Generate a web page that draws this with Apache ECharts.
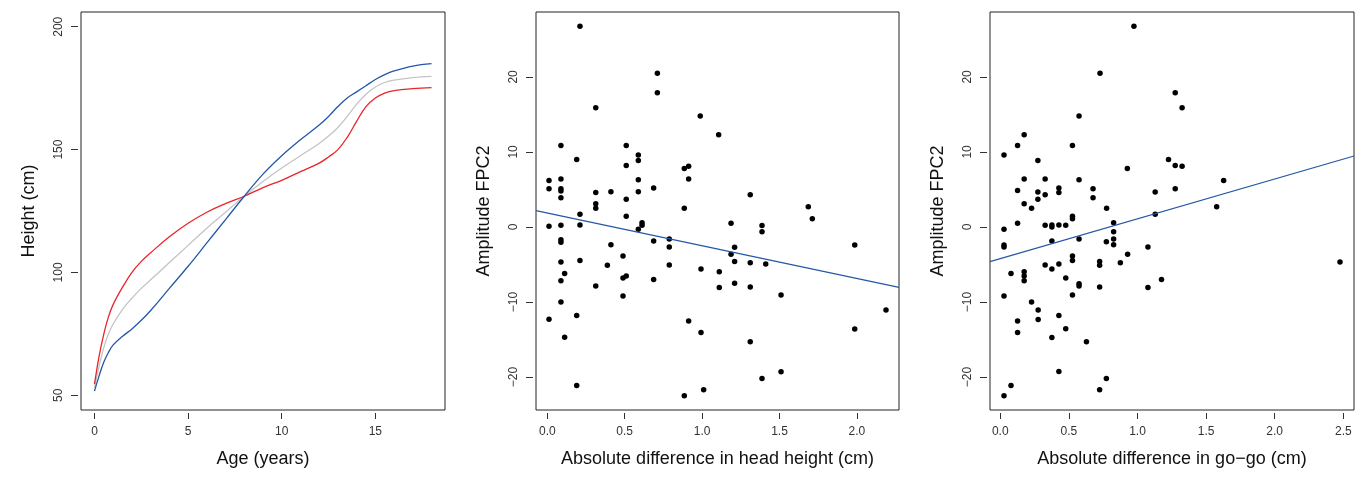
<!DOCTYPE html>
<html>
<head>
<meta charset="utf-8">
<script src="https://cdn.jsdelivr.net/npm/echarts@6/dist/echarts.min.js"></script>
<style>
  html, body { margin: 0; padding: 0; background: #fff; }
  #chart { width: 1358px; height: 480px; }
</style>
</head>
<body>
<div id="chart"></div>
<script>
// Panel 1: growth curves
const ages = [0, 0.25, 0.5, 0.75, 1, 1.5, 2, 2.5, 3, 4, 5, 6, 7, 8, 9, 10, 11, 12, 12.5, 13, 13.5, 14, 14.5, 15, 15.5, 16, 17, 18];
const blueHeights = [51.7, 58, 63.5, 67.5, 70.5, 74, 77, 80.5, 84.5, 93.5, 102.5, 112, 121.5, 131, 140, 147.5, 154, 160, 163.5, 167.5, 171, 173.5, 176, 178.5, 180.5, 182, 184, 185];
const redHeights = [54.5, 66, 75, 82, 87, 94, 100, 104.5, 108, 114.5, 120, 124.5, 128, 131, 134.5, 137.5, 141, 144.5, 147, 150, 155, 161.5, 167.5, 171, 173, 174, 174.8, 175.2];
const meanHeights = [53, 62, 69.5, 75, 79, 85, 89.5, 93.5, 97, 104, 111, 118, 124.5, 131, 137, 142.5, 147.5, 152.5, 155.5, 159, 163.5, 168.5, 172.5, 175.5, 177.3, 178.3, 179.3, 179.8];

// Panel 2: head height difference vs FPC2 amplitude
const headDiff = [0.211, 0.711, 0.711, 0.313, 0.988, 1.107, 0.088, 0.510, 0.588, 0.588, 0.19, 0.51, 0.885, 0.913, 0.011, 0.088, 0.588, 0.913, 0.011, 0.088, 0.088, 0.313, 0.411, 0.588, 0.687, 0.088, 0.51, 0.313, 0.313, 0.885, 1.311, 1.686, 1.712, 1.187, 1.387, 1.387, 1.986, 1.21, 1.187, 1.21, 1.311, 1.411, 0.993, 1.111, 1.111, 1.21, 1.311, 1.51, 2.188, 1.986, 0.993, 1.311, 1.51, 1.387, 1.01, 0.211, 0.51, 0.011, 0.088, 0.211, 0.612, 0.612, 0.588, 0.088, 0.088, 0.411, 0.687, 0.788, 0.788, 0.088, 0.211, 0.112, 0.388, 0.489, 0.788, 0.088, 0.313, 0.489, 0.51, 0.687, 0.489, 0.088, 0.011, 0.19, 0.112, 0.913, 0.19, 0.885];
const headFpc2 = [26.74, 20.5, 17.9, 15.9, 14.8, 12.3, 10.85, 10.85, 9.6, 8.85, 9.0, 8.2, 7.8, 8.1, 6.2, 6.4, 6.3, 6.4, 5.1, 5.1, 4.8, 4.6, 4.7, 4.7, 5.2, 3.9, 3.7, 3.1, 2.5, 2.5, 4.3, 2.7, 1.1, 0.48, 0.2, -0.63, -2.4, -2.7, -3.65, -4.6, -4.77, -4.95, -5.6, -5.97, -8.06, -7.5, -8.0, -9.08, -11.08, -13.6, -14.07, -15.3, -19.3, -20.2, -21.7, 1.68, 1.42, 0.08, 0.21, 0.27, 0.57, 0.21, -0.32, -1.7, -2.05, -2.36, -1.87, -1.6, -2.67, -4.67, -4.46, -6.2, -5.12, -3.87, -5.08, -7.17, -7.88, -6.8, -6.55, -7.0, -9.2, -10.0, -12.3, -11.8, -14.7, -12.55, -21.15, -22.5];
const headFit = [1.86, -4.36]; // intercept, slope

// Panel 3: go-go difference vs FPC2 amplitude
const gogoDiff = [0.974, 0.727, 1.275, 0.574, 0.174, 0.126, 0.526, 0.027, 0.274, 1.226, 0.926, 1.275, 0.174, 0.327, 0.574, 0.126, 0.274, 0.327, 0.427, 0.427, 0.676, 0.676, 1.129, 1.275, 0.174, 0.274, 0.228, 0.775, 1.325, 1.325, 1.628, 1.577, 1.129, 0.027, 0.126, 0.327, 0.376, 0.376, 0.427, 0.477, 0.526, 0.526, 0.826, 0.826, 0.826, 0.826, 0.773, 0.027, 0.027, 0.376, 0.574, 1.076, 0.928, 0.875, 0.526, 0.526, 0.724, 0.724, 0.327, 0.376, 0.427, 0.078, 0.174, 0.174, 0.174, 0.477, 0.574, 0.574, 0.724, 1.076, 1.175, 0.526, 0.027, 0.228, 0.276, 0.427, 0.276, 0.126, 0.477, 0.126, 0.376, 0.628, 0.427, 0.773, 0.078, 0.724, 0.027, 2.476];
const gogoFpc2 = [26.74, 20.5, 17.9, 14.8, 12.3, 10.85, 10.85, 9.6, 8.85, 9.0, 7.8, 8.2, 6.4, 6.4, 6.3, 4.85, 4.67, 4.3, 5.2, 4.58, 5.1, 3.9, 4.67, 5.1, 3.1, 3.7, 2.5, 2.5, 15.9, 8.1, 6.2, 2.7, 1.68, -0.32, 0.48, 0.21, 0.27, 0.0, 0.27, 0.21, 1.42, 1.1, 0.57, -0.63, -1.6, -2.36, -1.96, -2.4, -2.67, -1.87, -1.6, -2.67, -3.65, -4.77, -3.87, -4.46, -4.6, -5.12, -5.08, -5.6, -4.95, -6.2, -5.97, -6.55, -7.17, -6.8, -7.57, -7.88, -8.0, -8.06, -7.0, -9.08, -9.2, -10.0, -11.08, -11.8, -12.34, -12.55, -13.58, -14.07, -14.74, -15.31, -19.28, -20.2, -21.15, -21.7, -22.5, -4.67];
const gogoFit = [-4.23, 5.31];

// tick labels
const ageTicks = [0, 5, 10, 15];
const heightTicks = [50, 100, 150, 200];
const headTicks = [0, 0.5, 1, 1.5, 2];
const gogoTicks = [0, 0.5, 1, 1.5, 2, 2.5];
const fpcTicks = [-20, -10, 0, 10, 20];

const FONT = 'Liberation Sans, Arial, sans-serif';
const zip = (xs, ys) => xs.map((x, i) => [x, ys[i]]);

function xAxisFor(idx, min, max, ticks, name, fmt) {
  return {
    type: 'value', gridIndex: idx, min: min, max: max, offset: 3, position: 'bottom',
    name: name, nameLocation: 'middle', nameGap: 37,
    nameTextStyle: { fontSize: 18, color: '#111', fontFamily: FONT },
    axisLine: { show: false, onZero: false },
    axisTick: { show: true, length: 6, customValues: ticks, lineStyle: { color: '#333' } },
    axisLabel: { customValues: ticks, margin: 13, fontSize: 12, color: '#333', fontFamily: FONT, formatter: fmt },
    splitLine: { show: false }
  };
}

function yAxisFor(idx, min, max, ticks, name, fmt) {
  return {
    type: 'value', gridIndex: idx, min: min, max: max, offset: 3, position: 'left',
    name: name, nameLocation: 'middle', nameGap: 40,
    nameTextStyle: { fontSize: 18, color: '#111', fontFamily: FONT },
    axisLine: { show: false, onZero: false },
    axisTick: { show: true, length: 7, customValues: ticks, lineStyle: { color: '#333' } },
    axisLabel: { customValues: ticks, rotate: 90, margin: 13, fontSize: 12, color: '#333', fontFamily: FONT, formatter: fmt },
    splitLine: { show: false }
  };
}

const oneDec = v => v.toFixed(1);
const minus = v => String(v).replace('-', '\u2212');

function fitLine(fit, xmin, xmax) {
  return [[xmin, fit[0] + fit[1] * xmin], [xmax, fit[0] + fit[1] * xmax]];
}

const gridBox = { show: true, borderColor: '#222', borderWidth: 1, backgroundColor: '#fff' };

const chart = echarts.init(document.getElementById('chart'));
const option = {
  animation: false,
  backgroundColor: '#fff',
  grid: [
    Object.assign({ left: 81, top: 12, width: 364, height: 398 }, gridBox),
    Object.assign({ left: 536, top: 12, width: 363, height: 398 }, gridBox),
    Object.assign({ left: 990, top: 12, width: 364, height: 398 }, gridBox)
  ],
  xAxis: [
    xAxisFor(0, -0.72, 18.72, ageTicks, 'Age (years)', v => String(v)),
    xAxisFor(1, -0.073, 2.272, headTicks, 'Absolute difference in head height (cm)', oneDec),
    xAxisFor(2, -0.075, 2.578, gogoTicks, 'Absolute difference in go\u2212go (cm)', oneDec)
  ],
  yAxis: [
    yAxisFor(0, 44, 206, heightTicks, 'Height (cm)', v => String(v)),
    yAxisFor(1, -24.4, 28.65, fpcTicks, 'Amplitude FPC2', minus),
    yAxisFor(2, -24.4, 28.65, fpcTicks, 'Amplitude FPC2', minus)
  ],
  series: [
    { type: 'line', xAxisIndex: 0, yAxisIndex: 0, data: zip(ages, meanHeights), smooth: 0.4, showSymbol: false,
      lineStyle: { color: '#c4c4c4', width: 1.3 } },
    { type: 'line', xAxisIndex: 0, yAxisIndex: 0, data: zip(ages, redHeights), smooth: 0.4, showSymbol: false,
      lineStyle: { color: '#e8262a', width: 1.3 } },
    { type: 'line', xAxisIndex: 0, yAxisIndex: 0, data: zip(ages, blueHeights), smooth: 0.4, showSymbol: false,
      lineStyle: { color: '#2457a7', width: 1.3 } },
    { type: 'scatter', xAxisIndex: 1, yAxisIndex: 1, data: zip(headDiff, headFpc2), symbolSize: 5.5,
      itemStyle: { color: '#000', opacity: 1 } },
    { type: 'line', xAxisIndex: 1, yAxisIndex: 1, data: fitLine(headFit, -0.073, 2.272), showSymbol: false,
      lineStyle: { color: '#2457a7', width: 1.2 } },
    { type: 'scatter', xAxisIndex: 2, yAxisIndex: 2, data: zip(gogoDiff, gogoFpc2), symbolSize: 5.5,
      itemStyle: { color: '#000', opacity: 1 } },
    { type: 'line', xAxisIndex: 2, yAxisIndex: 2, data: fitLine(gogoFit, -0.075, 2.578), showSymbol: false,
      lineStyle: { color: '#2457a7', width: 1.2 } }
  ]
};
chart.setOption(option);
</script>
</body>
</html>
